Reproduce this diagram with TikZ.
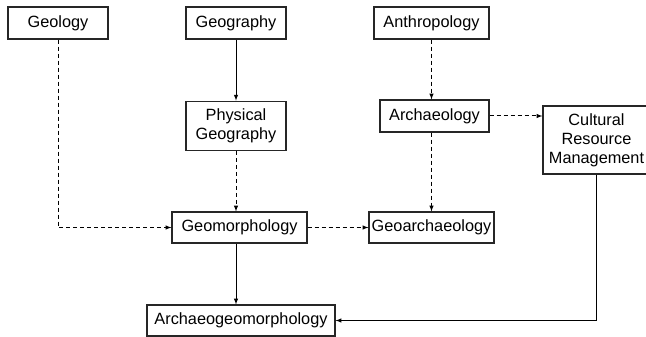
\documentclass[tikz,border=0pt]{standalone}
\usepackage{fontspec}
\setmainfont{Liberation Sans}
\usetikzlibrary{arrows,positioning}

\begin{document}
\begin{tikzpicture}[>=latex,x=1pt,y=-1pt,line width=1pt,
    box/.style={draw=black!85,line width=1.2pt,inner sep=1pt,align=center,
        font=\fontsize{16.3}{19}\selectfont},
    dashedarrow/.style={->,dash pattern=on 4pt off 3pt}]

            \useasboundingbox (0,0) rectangle (646,337);

            \node[box,minimum width=100pt,minimum height=32pt] (geology) at (58,23) {Geology};

            \node[box,minimum width=100pt,minimum height=32pt] (geography) at (236,23) {Geography};

            \node[box,minimum width=100pt,minimum height=49pt] (physgeo) [below=61pt of geography] {Physical\\Geography};

            \node[box,minimum width=115pt,minimum height=32pt] (anthro) at (431.5,23) {Anthropology};

            \node[box,minimum width=109pt,minimum height=32pt] (archaeo) at (434.5,116) {Archaeology};

            \node[box,minimum width=107pt,minimum height=68pt] (crm) at (596.5,140) {Cultural\\Resource\\Management};

            \node[box,minimum width=135pt,minimum height=31pt] (geomorph) at (239.5,227.5) {Geomorphology};

            \node[box,minimum width=125pt,minimum height=31pt] (geoarch) at (431.5,227.5) {Geoarchaeology};

            \node[box,minimum width=188pt,minimum height=31pt] (archgeo) at (241,320.5) {Archaeogeomorphology};

            

            \path[->] (geography) edge (physgeo)

                      (geomorph.south -| physgeo) edge (archgeo.north -| physgeo);

            \path[dashedarrow] (physgeo) edge (physgeo |- geomorph.north)

                      (anthro) edge (anthro |- archaeo.north)

                      (anthro |- archaeo.south) edge (anthro |- geoarch.north)

                      (archaeo.east) edge (archaeo.east -| crm.west)

                      (geomorph) edge (geoarch);

            \draw[dashedarrow] (geology) |- (geomorph);

            \draw[->] (crm) |- (archgeo);

        \end{tikzpicture}
\end{document}
